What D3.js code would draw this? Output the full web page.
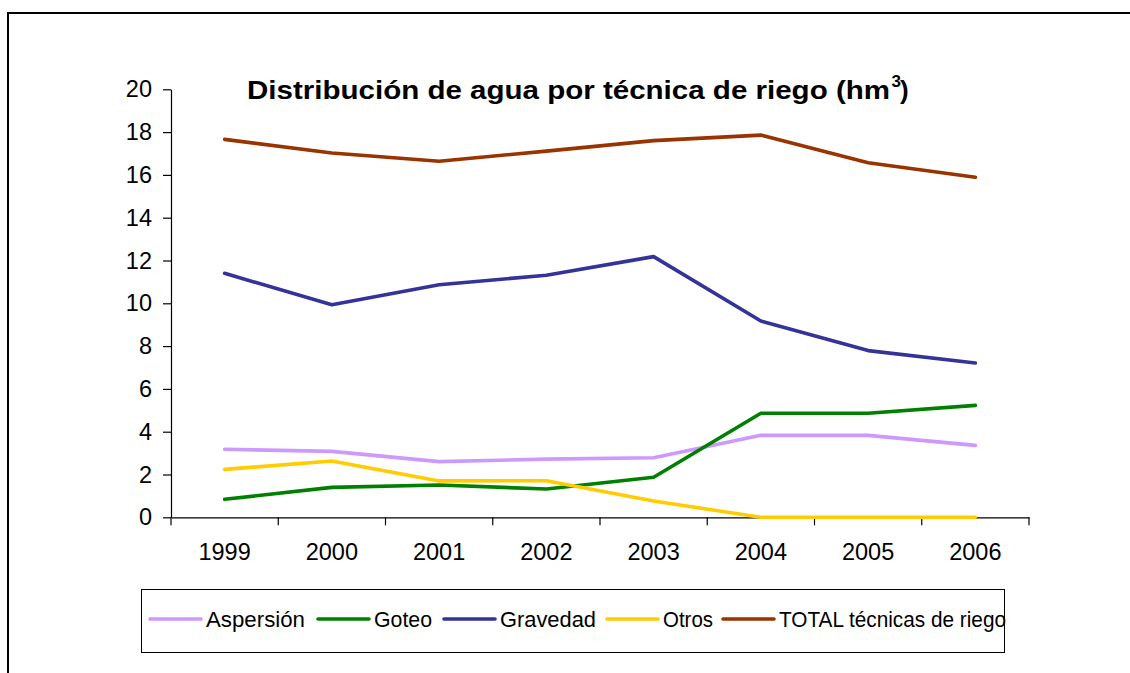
<!DOCTYPE html>
<html>
<head>
<meta charset="utf-8">
<script src="https://cdn.jsdelivr.net/npm/d3@7"></script>
<style>
  html, body { margin: 0; padding: 0; background: #fff; }
  svg { display: block; font-family: "Liberation Sans", Arial, Helvetica, sans-serif; }
</style>
</head>
<body>
<svg id="chart" width="1130" height="673"></svg>
<script>
const years = ["1999", "2000", "2001", "2002", "2003", "2004", "2005", "2006"];
const aspersion = [3.18, 3.08, 2.60, 2.72, 2.78, 3.83, 3.83, 3.36];
const goteo     = [0.84, 1.40, 1.51, 1.32, 1.87, 4.86, 4.86, 5.23];
const gravedad  = [11.40, 9.93, 10.87, 11.31, 12.18, 9.17, 7.79, 7.21];
const otros     = [2.24, 2.63, 1.70, 1.71, 0.76, 0.0, 0.0, 0.0];
const total     = [17.66, 17.02, 16.64, 17.11, 17.60, 17.86, 16.57, 15.89];
const seriesNames = ["Aspersión", "Goteo", "Gravedad", "Otros", "TOTAL técnicas de riego"];
const seriesColors = ["#CC99FF", "#008000", "#333399", "#FFCC00", "#993300"];
const yTicks = [0, 2, 4, 6, 8, 10, 12, 14, 16, 18, 20];
const titleMain = "Distribución de agua por técnica de riego (hm";
const titleSup = "3";

const series = [aspersion, goteo, gravedad, otros, total].map((vals, i) => ({
  name: seriesNames[i], color: seriesColors[i],
  values: vals.map((v, j) => ({ year: years[j], value: v }))
}));

const svg = d3.select("#chart");
const FONT = "'Liberation Sans', Arial, sans-serif";

// outer frame (clipped by the viewport on right/bottom)
svg.append("rect").attr("x", 8).attr("y", 13).attr("width", 1200).attr("height", 800)
  .attr("fill", "none").attr("stroke", "#000").attr("stroke-width", 2);

const x = d3.scaleBand().domain(years).range([171, 1029]).padding(0);
const y = d3.scaleLinear().domain([0, 20]).range([517.3, 89.3]);

// Y axis
const yAxis = svg.append("g").attr("transform", "translate(171,0)")
  .call(d3.axisLeft(y).tickValues(yTicks).tickSize(8).tickPadding(11).tickSizeOuter(0));
yAxis.select(".domain").attr("stroke", "#000").attr("stroke-width", 1.2);
yAxis.selectAll(".tick line").attr("stroke", "#000").attr("stroke-width", 1.2);
yAxis.selectAll(".tick text").attr("font-size", 23.5).attr("fill", "#000")
  .attr("font-family", FONT);

// X axis
const xAxis = svg.append("g").attr("transform", `translate(0,${y(0)})`)
  .call(d3.axisBottom(x).tickSize(0).tickPadding(26).tickSizeOuter(0));
xAxis.select(".domain").attr("stroke", "#000").attr("stroke-width", 1.2);
xAxis.selectAll(".tick text").attr("font-size", 23.5).attr("fill", "#000")
  .attr("font-family", FONT);
// tick marks at category boundaries
const bounds = years.map(d => x(d)).concat([x(years[years.length - 1]) + x.bandwidth()]);
xAxis.selectAll("line.bound").data(bounds).enter().append("line")
  .attr("class", "bound")
  .attr("x1", d => d).attr("x2", d => d).attr("y1", 0).attr("y2", 8)
  .attr("stroke", "#000").attr("stroke-width", 1.2);

// lines
const line = d3.line().x(d => x(d.year) + x.bandwidth() / 2).y(d => y(d.value));
svg.append("g").selectAll("path").data(series).enter().append("path")
  .attr("d", d => line(d.values))
  .attr("fill", "none").attr("stroke", d => d.color).attr("stroke-width", 3.6)
  .attr("stroke-linejoin", "round").attr("stroke-linecap", "round");

// title
const title = svg.append("text").attr("x", 247).attr("y", 99)
  .attr("font-size", 26).attr("font-weight", "bold").attr("fill", "#000");
title.append("tspan").text(titleMain)
  .attr("textLength", 643).attr("lengthAdjust", "spacingAndGlyphs");
svg.append("text").attr("x", 891.5).attr("y", 87).attr("font-size", 17)
  .attr("font-weight", "bold").attr("fill", "#000").text(titleSup);
svg.append("text").attr("x", 900).attr("y", 99).attr("font-size", 26)
  .attr("font-weight", "bold").attr("fill", "#000").text(")");

// legend
svg.append("rect").attr("x", 141.5).attr("y", 589.5).attr("width", 863).attr("height", 63)
  .attr("fill", "#fff").attr("stroke", "#000").attr("stroke-width", 1);
const legendX = [150, 318, 444, 607, 723];
const legendW = [99, 58, 96, 50, 227];
const ly = 619;
series.forEach((s, i) => {
  const lx = legendX[i];
  svg.append("line").attr("x1", lx).attr("x2", lx + 51).attr("y1", ly).attr("y2", ly)
    .attr("stroke", s.color).attr("stroke-width", 3.6).attr("stroke-linecap", "round");
  svg.append("text").attr("x", lx + 56).attr("y", ly).attr("dy", "0.36em")
    .attr("font-size", 22).attr("fill", "#000").text(s.name)
    .attr("textLength", legendW[i]).attr("lengthAdjust", "spacingAndGlyphs");
});
</script>
</body>
</html>
